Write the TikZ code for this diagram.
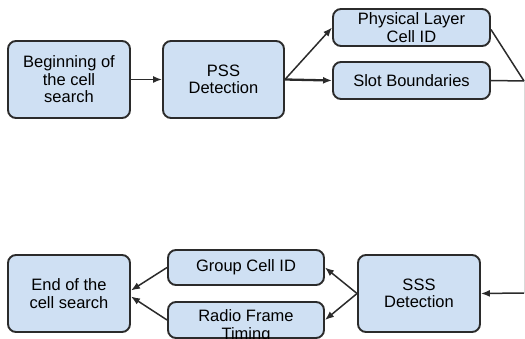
\documentclass[tikz,border=0pt]{standalone}
\usepackage{fontspec}
\setmainfont{Liberation Sans}
\usetikzlibrary{arrows.meta}
\definecolor{boxfill}{HTML}{CFE0F3}
\definecolor{boxline}{HTML}{2B2B2B}
\begin{document}
\begin{tikzpicture}[x=1pt,y=1pt,
  box/.style={draw=boxline, line width=1.9pt, fill=boxfill, rounded corners=8pt,
    inner sep=0pt, align=center, font=\fontsize{16.5}{17.5}\selectfont},
  txt/.style={inner sep=0pt, align=center, font=\fontsize{16.5}{18}\selectfont},
  conn/.style={draw=boxline, line width=1.5pt},
  arr/.style={conn, -{Latex[length=9pt,width=7pt]}}]
\useasboundingbox (0,0) rectangle (525,-339);
\node[box, minimum width=122, minimum height=77] (beg) at (69,-79.5) {Beginning of\\the cell\\search};
\node[box, minimum width=121, minimum height=77] (pss) at (223.5,-79.5) {PSS\\Detection};
\node[box, minimum width=157, minimum height=37] (phy) at (411.5,-27.5) {Physical Layer\\Cell ID};
\node[box, minimum width=157, minimum height=37] (slot) at (411.5,-80.5) {Slot Boundaries};
\node[box, minimum width=122, minimum height=77] (end) at (69,-293.5) {End of the\\cell search};
\node[box, minimum width=156, minimum height=35] (gci) at (246,-267.5) {Group Cell ID};
\node[box, minimum width=156, minimum height=36] (rf) at (246,-320) {};
\node[txt] (rft) at (246,-326) {Radio Frame\\Timing};
\node[box, minimum width=122, minimum height=77] (sss) at (419,-293.5) {SSS\\Detection};
\coordinate (j1) at (524,-81);
\coordinate (j2) at (524,-293);
\draw[arr] (beg.east) -- (pss.west);
\draw[arr] (pss.east) -- (phy.west);
\draw[arr, line width=2.3pt] (pss.east) -- (slot.west);
\draw[conn] ([yshift=-2]phy.east) -- (j1);
\draw[conn] (slot.east) -- (j1);
\draw[draw=gray!30, line width=0.6pt] (j1) -- (j2);
\draw[arr] (j2) -- (sss.east);
\draw[arr] (sss.west) -- (gci.east);
\draw[arr] (sss.west) -- (rf.east);
\draw[arr] (gci.west) -- ([yshift=3]end.east);
\draw[arr] (rf.west) -- ([yshift=-3]end.east);
\end{tikzpicture}
\end{document}
